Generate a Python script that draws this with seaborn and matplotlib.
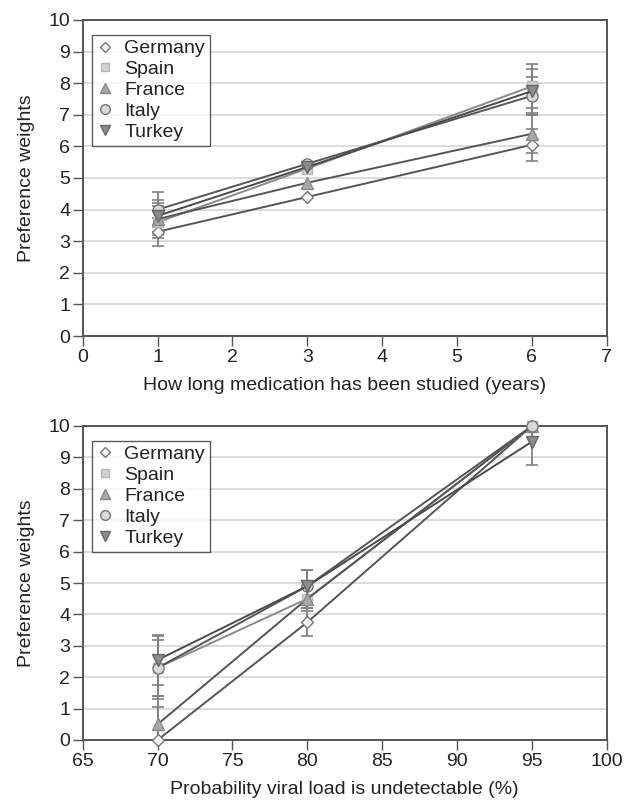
import matplotlib
matplotlib.use("Agg")
import matplotlib.pyplot as plt
import seaborn as sns
import pandas as pd
from matplotlib.lines import Line2D

sns.set_theme(style="white")
plt.rcParams['font.family'] = ['Liberation Sans', 'DejaVu Sans']

countries = ["Germany", "Spain", "France", "Italy", "Turkey"]

years = [1, 3, 6]
germany_years = [3.3, 4.4, 6.05]
spain_years = [3.6, 5.3, 7.9]
france_years = [3.7, 4.85, 6.4]
italy_years = [4.0, 5.45, 7.6]
turkey_years = [3.8, 5.35, 7.75]
germany_years_err = [0.45, 0.0, 0.5]
spain_years_err = [0.5, 0.0, 0.7]
france_years_err = [0.5, 0.0, 0.6]
italy_years_err = [0.55, 0.0, 0.6]
turkey_years_err = [0.5, 0.0, 0.7]

prob = [70, 80, 95]
germany_prob = [0.0, 3.75, 10.0]
spain_prob = [2.3, 4.5, 10.0]
france_prob = [0.5, 4.5, 10.0]
italy_prob = [2.3, 4.9, 10.0]
turkey_prob = [2.55, 4.9, 9.5]
germany_prob_err = [1.05, 0.45, 0.0]
spain_prob_err = [0.9, 0.4, 0.0]
france_prob_err = [0.9, 0.3, 0.0]
italy_prob_err = [1.0, 0.5, 0.0]
turkey_prob_err = [0.8, 0.5, 0.75]

markers = {"Germany": "D", "Spain": "s", "France": "^", "Italy": "o", "Turkey": "v"}
msizes = {"Germany": 6, "Spain": 7, "France": 8, "Italy": 8, "Turkey": 8}
face = {"Germany": "#f4f4f4", "Spain": "#d2d2d2", "France": "#a8a8a8", "Italy": "#d8d8d8", "Turkey": "#8c8c8c"}
edge = {"Germany": "#777777", "Spain": "#b8b8b8", "France": "#888888", "Italy": "#777777", "Turkey": "#666666"}
linec = {"Germany": "#555555", "Spain": "#8a8a8a", "France": "#555555", "Italy": "#555555", "Turkey": "#4a4a4a"}

FS = 14


def build(xs, series, errs):
    rows = []
    for c, ys, es in zip(countries, series, errs):
        for x, y, e in zip(xs, ys, es):
            rows.append({"x": x, "value": y, "err": e, "country": c})
    return pd.DataFrame(rows)


df_top = build(years, [germany_years, spain_years, france_years, italy_years, turkey_years],
               [germany_years_err, spain_years_err, france_years_err, italy_years_err, turkey_years_err])
df_bot = build(prob, [germany_prob, spain_prob, france_prob, italy_prob, turkey_prob],
               [germany_prob_err, spain_prob_err, france_prob_err, italy_prob_err, turkey_prob_err])

fig = plt.figure(figsize=(6.32, 8), dpi=100)
ax1 = fig.add_axes([0.131, 0.58, 0.829, 0.395])
ax2 = fig.add_axes([0.131, 0.075, 0.829, 0.3925])


def draw(ax, df, xlim, xticks, xlabel):
    for c in countries:
        d = df[(df.country == c) & (df.err > 0)]
        ax.errorbar(d["x"], d["value"], yerr=d["err"], fmt="none", ecolor="#808080",
                    elinewidth=1.3, capsize=4, capthick=1.2, zorder=2)
    for c in countries:
        d = df[df.country == c]
        sns.lineplot(data=d, x="x", y="value", ax=ax, color=linec[c], linewidth=1.4,
                     marker=markers[c], markersize=msizes[c], markerfacecolor=face[c],
                     markeredgecolor=edge[c], markeredgewidth=1.0, legend=False, zorder=3,
                     errorbar=None, clip_on=False)
    ax.set_xlim(*xlim)
    ax.set_ylim(0, 10)
    ax.set_xticks(xticks)
    ax.set_yticks(range(0, 11))
    ax.yaxis.grid(True, color="#d5d5d5", linewidth=1.2)
    ax.set_axisbelow(True)
    for s in ax.spines.values():
        s.set_color("#555555")
        s.set_linewidth(1.4)
    ax.tick_params(axis="both", which="both", direction="out", length=7, width=1.0,
                   color="#555555", labelsize=FS, labelcolor="#222222", pad=2,
                   bottom=True, left=True)
    ax.set_xlabel(xlabel, fontsize=FS, color="#222222", labelpad=8)
    ax.set_ylabel("Preference weights", fontsize=FS, color="#222222", labelpad=10)
    handles = [Line2D([], [], linestyle="none", marker=markers[c], markersize=msizes[c] - 1,
                      markerfacecolor=face[c], markeredgecolor=edge[c]) for c in countries]
    leg = ax.legend(handles, countries, loc="upper left", bbox_to_anchor=(0.018, 0.953),
                    frameon=True, fancybox=False, fontsize=FS, handlelength=0.8,
                    handletextpad=0.6, borderpad=0.25, labelspacing=0.17, borderaxespad=0)
    leg.get_frame().set_edgecolor("#333333")
    leg.get_frame().set_linewidth(1.0)
    for t in leg.get_texts():
        t.set_color("#222222")


draw(ax1, df_top, (0, 7), range(0, 8), "How long medication has been studied (years)")
draw(ax2, df_bot, (65, 100), range(65, 101, 5), "Probability viral load is undetectable (%)")

fig.savefig("out.png", dpi=100)
